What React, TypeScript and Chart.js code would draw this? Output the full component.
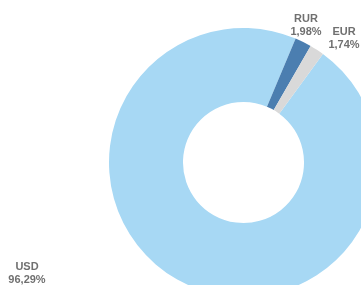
import React, { useEffect, useRef } from "react";
import { Chart, registerables } from "chart.js";

Chart.register(...registerables);

const categories = ["USD", "RUR", "EUR"];
const values = [96.29, 1.98, 1.74];
const valueLabels = ["96,29%", "1,98%", "1,74%"];
const colors = ["#A7D8F4", "#4B7EB0", "#D9D9D9"];
// label anchor (center x, first baseline y) in page pixels
const labelAnchors = [
  [27, 270],
  [306, 22],
  [344, 35],
];

const labelPlugin = {
  id: "manualLabels",
  afterDraw(chart: any) {
    const ctx = chart.ctx;
    ctx.save();
    ctx.font = "bold 11px 'Liberation Sans', Arial, sans-serif";
    ctx.fillStyle = "#707070";
    ctx.textAlign = "center";
    ctx.textBaseline = "alphabetic";
    categories.forEach((c, i) => {
      const [x, y] = labelAnchors[i];
      ctx.fillText(c, x, y);
      ctx.fillText(valueLabels[i], x, y + 13);
    });
    ctx.restore();
  },
};

export default function App() {
  const ref = useRef<HTMLCanvasElement>(null);
  useEffect(() => {
    document.body.style.margin = "0";
    const chart = new Chart(ref.current!, {
      type: "doughnut",
      data: {
        labels: categories,
        datasets: [
          {
            data: values,
            backgroundColor: colors,
            borderWidth: 0,
          },
        ],
      },
      options: {
        animation: false,
        responsive: false,
        rotation: 36.2,
        cutout: "45%",
        layout: { padding: { left: 109, top: 28, right: 0, bottom: 0 } },
        plugins: {
          legend: { display: false },
          tooltip: { enabled: false },
        },
      },
      plugins: [labelPlugin],
    });
    return () => chart.destroy();
  }, []);
  return (
    <div
      style={{
        position: "fixed",
        left: 0,
        top: 0,
        width: 361,
        height: 285,
        overflow: "hidden",
        background: "#fff",
      }}
    >
      <canvas ref={ref} width={378} height={297} style={{ display: "block" }} />
    </div>
  );
}
